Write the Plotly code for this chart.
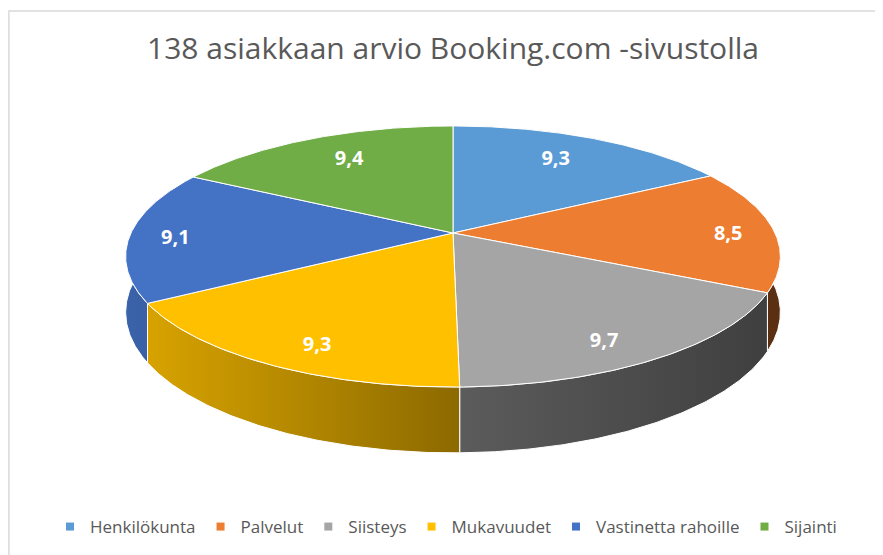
import math
import plotly.graph_objects as go

# ---- data ----
categories = ["Henkilökunta", "Palvelut", "Siisteys", "Mukavuudet", "Vastinetta rahoille", "Sijainti"]
values = [9.3, 8.5, 9.7, 9.3, 9.1, 9.4]
colors = ["#5B9BD5", "#ED7D31", "#A5A5A5", "#FFC000", "#4472C4", "#70AD47"]
title_text = "138 asiakkaan arvio Booking.com -sivustolla"

# ---- layout / 3D projection parameters (pixel space) ----
W, Hgt = 883, 555
OFF = 8                   # page body margin
CX, CY = 453.0 - OFF, 233.0 - OFF
R, K = 322.0, 126.3       # horizontal radius, vertical (tilted) radius
P = 0.18                  # perspective factor
DEPTH = 54.0              # wall thickness
NPTS = 120


def proj(theta, z):
    u, v = math.sin(theta), math.cos(theta)
    s = 1.0 / (1.0 + P * v)
    return CX + R * u * s, CY - K * v * s + DEPTH * z * s


def shade(hexc, f):
    h = hexc.lstrip("#")
    r, g, b = (int(h[i:i + 2], 16) for i in (0, 2, 4))
    return "rgb(%d,%d,%d)" % (r * f, g * f, b * f)


total = sum(values)
bounds = [0.0]
for v in values:
    bounds.append(bounds[-1] + v / total * 2 * math.pi)

fig = go.Figure()

# walls (drawn first, back to front)
order = sorted(range(len(values)), key=lambda i: math.cos((bounds[i] + bounds[i + 1]) / 2), reverse=True)
for i in order:
    a0, a1 = bounds[i], bounds[i + 1]
    ts = [a0 + (a1 - a0) * k / NPTS for k in range(NPTS + 1)]
    top = [proj(t, 0) for t in ts]
    bot = [proj(t, 1) for t in reversed(ts)]
    pts = top + bot + [top[0]]
    fig.add_trace(go.Scatter(
        x=[p[0] for p in pts], y=[p[1] for p in pts],
        mode="lines", fill="toself",
        line=dict(color="white", width=1),
        fillcolor=shade(colors[i], 0.6),
        fillgradient=dict(type="horizontal", start=CX - R * 1.02, stop=CX + R * 1.02,
                          colorscale=[[0, shade(colors[i], 0.87)],
                                      [0.5, shade(colors[i], 0.56)],
                                      [1, shade(colors[i], 0.38)]]),
        hoverinfo="skip", showlegend=False))

# top faces
for i in range(len(values)):
    a0, a1 = bounds[i], bounds[i + 1]
    ts = [a0 + (a1 - a0) * k / NPTS for k in range(NPTS + 1)]
    rim = [proj(t, 0) for t in ts]
    pts = [(CX, CY)] + rim + [(CX, CY)]
    fig.add_trace(go.Scatter(
        x=[p[0] for p in pts], y=[p[1] for p in pts],
        mode="lines", fill="toself", fillcolor=colors[i],
        line=dict(color="white", width=1),
        name=categories[i], hoverinfo="name", showlegend=False))

# data labels
lx, ly, lt = [], [], []
for i, v in enumerate(values):
    m = (bounds[i] + bounds[i + 1]) / 2
    u, w = math.sin(m), math.cos(m)
    s = 1.0 / (1.0 + P * w)
    fx = 0.60 + 0.26 * abs(u)
    lx.append(CX + fx * R * u * s)
    ly.append(CY - 0.83 * K * w * s + 5)
    lt.append(("%.1f" % v).replace(".", ","))
fig.add_trace(go.Scatter(
    x=lx, y=ly, text=lt, mode="text",
    textfont=dict(family="Open Sans", size=20, color="white", weight="bold"),
    hoverinfo="skip", showlegend=False))

# legend entries
for c, col in zip(categories, colors):
    fig.add_trace(go.Scatter(
        x=[None], y=[None], mode="markers", name=c,
        marker=dict(symbol="square", size=8, color=col)))

fig.update_layout(
    width=W, height=Hgt, autosize=False,
    margin=dict(l=0, r=0, t=0, b=0),
    paper_bgcolor="white", plot_bgcolor="white",
    title=dict(text=title_text, x=(453 - OFF) / W, xanchor="center", y=1 - (48 - OFF) / Hgt,
               yanchor="middle",
               font=dict(family="Open Sans", size=30, color="#595959")),
    xaxis=dict(range=[0, W], visible=False, fixedrange=True),
    yaxis=dict(range=[Hgt, 0], visible=False, fixedrange=True),
    legend=dict(orientation="h", x=(446 - OFF) / W, xanchor="center", y=1 - (527 - OFF) / Hgt,
                yanchor="middle",
                font=dict(family="Open Sans", size=17, color="#595959"),
                itemwidth=30, bgcolor="rgba(0,0,0,0)"),
    shapes=[dict(type="rect", xref="paper", yref="paper",
                 x0=0.001, x1=1.05, y0=-0.05, y1=1 - (11 - OFF) / Hgt,
                 line=dict(color="#D9D9D9", width=1.5), fillcolor="rgba(0,0,0,0)", layer="below")],
)

fig.write_html("out.html")
